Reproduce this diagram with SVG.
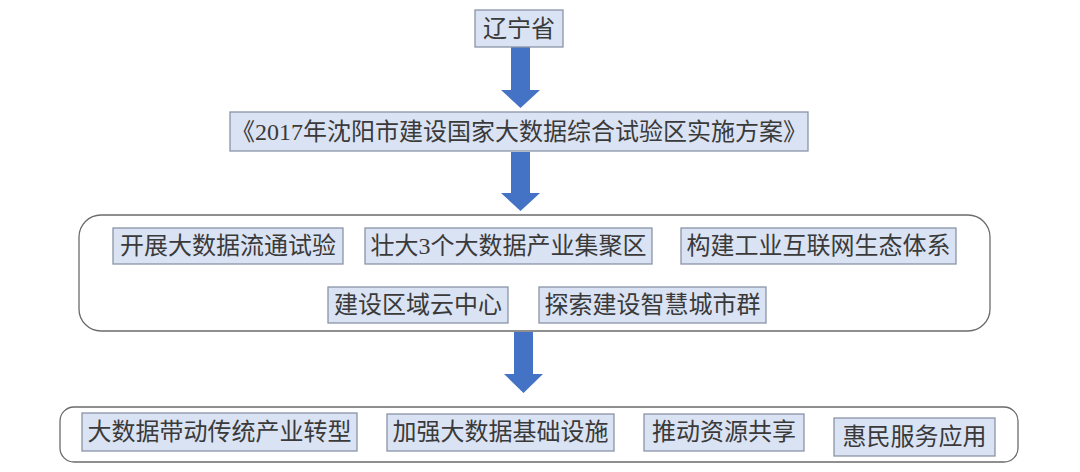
<svg xmlns="http://www.w3.org/2000/svg" width="1080" height="472" viewBox="0 0 1080 472">
<style>
.bx{fill:#dae3f3;stroke:#8a94a6;stroke-width:1.3}
.ct{fill:#ffffff;stroke:#6b6b6b;stroke-width:1.3}
.ar{fill:#4472c4}
text{font-family:"Liberation Serif","Noto Sans CJK SC",serif;font-size:24px;fill:#3a3a3a;text-anchor:middle;dominant-baseline:central}
</style>
<rect width="1080" height="472" fill="#ffffff"/>
<g id="connectors">
<polygon class="ar" points="511,47 530,47 530,90 540,90 520.5,108 501,90 511,90"/>
<polygon class="ar" points="511,152 530,152 530,193 540,193 520.5,211 501,193 511,193"/>
<polygon class="ar" points="514,332 533,332 533,374 543,374 523.5,393 504,374 514,374"/>
</g>
<g id="n_liaoning"><rect class="bx" x="475" y="10" width="88" height="37"/><text x="519" y="29">辽宁省</text></g>
<g id="n_plan"><rect class="bx" x="230" y="112" width="578" height="39"/><text x="519" y="132" font-size="23">《2017年沈阳市建设国家大数据综合试验区实施方案》</text></g>
<g id="c_group1"><rect class="ct" x="79" y="215" width="911" height="116" rx="22"/></g>
<g id="n_a1"><rect class="bx" x="113" y="228" width="230" height="36"/><text x="228" y="246">开展大数据流通试验</text></g>
<g id="n_a2"><rect class="bx" x="365" y="228" width="287" height="36"/><text x="508.5" y="246">壮大3个大数据产业集聚区</text></g>
<g id="n_a3"><rect class="bx" x="681" y="228" width="275" height="36"/><text x="818.5" y="246">构建工业互联网生态体系</text></g>
<g id="n_a4"><rect class="bx" x="328" y="287" width="180" height="36"/><text x="418" y="305">建设区域云中心</text></g>
<g id="n_a5"><rect class="bx" x="539" y="287" width="227" height="36"/><text x="652.5" y="305">探索建设智慧城市群</text></g>
<g id="c_group2"><rect class="ct" x="60" y="407" width="958" height="55" rx="14"/></g>
<g id="n_b1"><rect class="bx" x="82" y="413" width="275" height="38"/><text x="219.5" y="432">大数据带动传统产业转型</text></g>
<g id="n_b2"><rect class="bx" x="387" y="414" width="227" height="37"/><text x="500.5" y="432">加强大数据基础设施</text></g>
<g id="n_b3"><rect class="bx" x="644" y="414" width="160" height="37"/><text x="724" y="432">推动资源共享</text></g>
<g id="n_b4"><rect class="bx" x="834" y="418" width="161" height="38"/><text x="914.5" y="437">惠民服务应用</text></g>
</svg>
